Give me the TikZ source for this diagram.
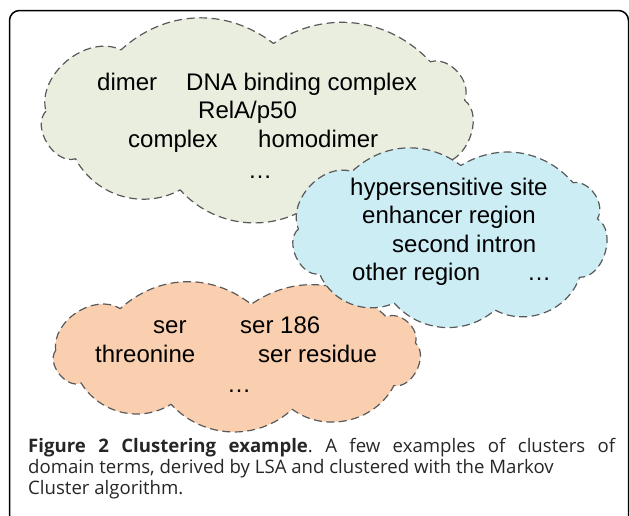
\documentclass[tikz,border=0pt]{standalone}
\usepackage{fontspec}
\setmainfont{Liberation Sans}
\newfontfamily\capfont{Open Sans}
\frenchspacing

\definecolor{leafgreen}{HTML}{EAEEDF}
\definecolor{skyblue}{HTML}{CDEDF5}
\definecolor{peach}{HTML}{F9CFAF}

\tikzset{
  cloudline/.style={draw=black!65,line width=1.2pt,dash pattern=on 8pt off 4.5pt,line join=round},
  term/.style={anchor=base west,inner sep=0pt,font=\fontsize{24}{28}\selectfont},
  capline/.style={anchor=base west,inner sep=0pt,text=black!85,font=\capfont\fontsize{18.6}{20.7}\selectfont},
}

% cloud in the box left,top,width,height (screen pixels)
\newcommand\puffcloud[5]{%
  \begin{scope}[shift={(#2,#3)},x=#4pt,y=-#5pt]
    \path[cloudline,fill=#1] (0.035,0.46)
      to[bend right=75] (0.10,0.72)
      to[bend right=45] (0.33,0.89)
      to[bend right=45] (0.64,0.93)
      to[bend right=50] (0.90,0.74)
      to[bend right=75] (0.955,0.40)
      to[bend right=65] (0.88,0.19)
      to[bend right=40] (0.535,0.09)
      to[bend right=40] (0.20,0.125)
      to[bend right=65] (0.035,0.46) -- cycle;
  \end{scope}}

\begin{document}
\begin{tikzpicture}[x=1pt,y=-1pt]
  \useasboundingbox (0,0) rectangle (629,515);
  \clip (0,0) rectangle (629,515);
  \draw[line width=1.5pt,rounded corners=10pt] (9.5,540) |- (628.5,10.5) -- (628.5,540);

  % clusters
  \puffcloud{leafgreen}{30}{27}{455}{183}
  \puffcloud{peach}{42}{293}{391}{125}
  \puffcloud{skyblue}{287}{150}{325}{172}

  \node[term] (dimer) at (97,90) {dimer};
  \node[term] (dnabind) at (186,90) {DNA binding complex};
  \node[term] (rela) at (198,118) {RelA/p50};
  \node[term] (complex) at (128,147) {complex};
  \node[term] (homodimer) at (258,147) {homodimer};
  \node[term] (gdots) at (248,178) {\dots};

  \node[term] (hyper) at (350,195) {hypersensitive site};
  \node[term] (enhancer) at (362,223) {enhancer region};
  \node[term] (intron) at (392,252) {second intron};
  \node[term] (other) at (352,280) {other region};
  \node[term] (bdots) at (527,280) {\dots};

  \node[term] (ser) at (153,333) {ser};
  \node[term] (ser186) at (240,333) {ser 186};
  \node[term] (threonine) at (95,362) {threonine};
  \node[term] (serres) at (258,362) {ser residue};
  \node[term] (odots) at (227,392) {\dots};

  % caption
  \node[capline] (cap1) at (28,452) {\makebox[587pt][s]{\textbf{Figure 2 Clustering example}. A few examples of clusters of}};
  \node[capline] (cap2) at (28,473) {domain terms, derived by LSA and clustered with the Markov};
  \node[capline] (cap3) at (28,494) {Cluster algorithm.};
\end{tikzpicture}
\end{document}
